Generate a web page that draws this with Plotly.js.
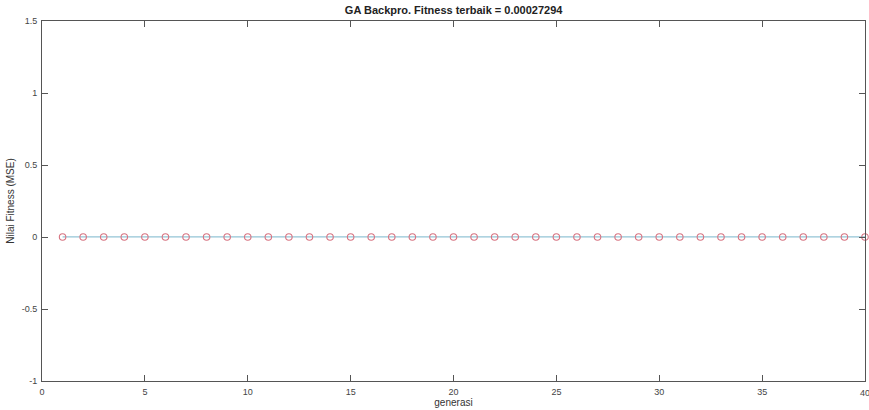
<!DOCTYPE html>
<html>
<head>
<meta charset="utf-8">
<script src="https://cdn.plot.ly/plotly-3.0.1.min.js"></script>
<style>html,body{margin:0;padding:0;background:#fff;}#chart{width:869px;height:410px;}</style>
</head>
<body>
<div id="chart"></div>
<script>
const generasi = [1,2,3,4,5,6,7,8,9,10,11,12,13,14,15,16,17,18,19,20,21,22,23,24,25,26,27,28,29,30,31,32,33,34,35,36,37,38,39,40];
const fitness = [0.00031,0.00030,0.00030,0.00029,0.00029,0.00029,0.00028,0.00028,0.00028,0.00028,
                 0.00028,0.00028,0.00028,0.00028,0.00028,0.00028,0.00028,0.00028,0.00028,0.00028,
                 0.00027294,0.00027294,0.00027294,0.00027294,0.00027294,0.00027294,0.00027294,0.00027294,0.00027294,0.00027294,
                 0.00027294,0.00027294,0.00027294,0.00027294,0.00027294,0.00027294,0.00027294,0.00027294,0.00027294,0.00027294];
const xTicks = [0,5,10,15,20,25,30,35,40];
const yTicks = [-1,-0.5,0,0.5,1,1.5];
const titleText = 'GA Backpro. Fitness terbaik = 0.00027294';

const font = 'Liberation Sans, Arial, sans-serif';
const trace = {
  x: generasi, y: fitness, type: 'scatter', mode: 'lines+markers',
  line: {color: '#93c4d6', width: 1.3},
  marker: {symbol: 'circle-open', size: 6.5, color: '#d77482', line: {width: 1.1, color: '#d77482'}},
  hoverinfo: 'skip', cliponaxis: false
};
const axisCommon = {
  showgrid: false, zeroline: false, showline: true, linecolor: '#555', linewidth: 1,
  mirror: 'ticks', ticks: 'inside', ticklen: 6, tickcolor: '#555', tickwidth: 1,
  tickfont: {family: font, size: 9, color: '#444'}
};
const xMax = xTicks[xTicks.length - 1];
const layout = {
  width: 869, height: 410,
  margin: {l: 42, r: 4, t: 21, b: 29},
  paper_bgcolor: '#fff', plot_bgcolor: '#fff',
  showlegend: false,
  title: {text: '<b>' + titleText + '</b>', font: {family: font, size: 11, color: '#222'}, x: 0.522, xanchor: 'center', y: 0.975, yanchor: 'middle'},
  xaxis: Object.assign({}, axisCommon, {range: [0, xMax], tickvals: xTicks.slice(0, -1), ticktext: xTicks.slice(0, -1).map(String),
    ticklabelstandoff: 2,
    title: {text: 'generasi', font: {family: font, size: 10, color: '#333'}, standoff: 2}}),
  yaxis: Object.assign({}, axisCommon, {range: [-1, 1.5], tickvals: yTicks, ticktext: yTicks.map(String),
    ticklabelstandoff: 2,
    title: {text: 'Nilai Fitness (MSE)', font: {family: font, size: 10, color: '#333'}, standoff: 5}}),
  annotations: [{x: xMax, y: 0, xref: 'x', yref: 'paper', text: String(xMax), showarrow: false,
    xanchor: 'center', yanchor: 'top', yshift: -5, font: {family: font, size: 9, color: '#444'}}]
};
Plotly.newPlot('chart', [trace], layout, {displayModeBar: false, staticPlot: true});
</script>
</body>
</html>
